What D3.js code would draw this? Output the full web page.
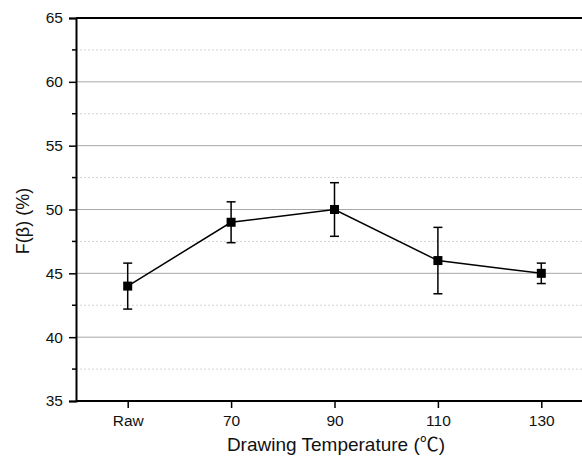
<!DOCTYPE html>
<html>
<head>
<meta charset="utf-8">
<script src="https://cdn.jsdelivr.net/npm/d3@7"></script>
<style>
  body { margin: 0; background: #fff; }
  text { font-family: "Liberation Sans", Arial, sans-serif; fill: #111; }
</style>
</head>
<body>
<svg id="chart" width="582" height="456"></svg>
<script>
// data
const categories = ['Raw', '70', '90', '110', '130'];
const values = [44, 49, 50, 46, 45];
const errors = [1.8, 1.6, 2.1, 2.6, 0.8];
const yTicks = [35, 40, 45, 50, 55, 60, 65];
const yMinorTicks = [37.5, 42.5, 47.5, 52.5, 57.5, 62.5];

const svg = d3.select('#chart');
const plotL = 76, plotT = 18, plotB = 401, plotR = 593;

const x = d3.scalePoint().domain(categories).range([plotL, plotR]).padding(0.5);
const y = d3.scaleLinear().domain([35, 65]).range([plotB, plotT]);

// grid lines
svg.append('g').selectAll('line')
  .data(yTicks.filter(d => d > 35 && d < 65))
  .enter().append('line')
  .attr('x1', plotL).attr('x2', 582)
  .attr('y1', d => y(d)).attr('y2', d => y(d))
  .attr('stroke', '#a8a8a8').attr('stroke-width', 1);

svg.append('g').selectAll('line')
  .data(yMinorTicks)
  .enter().append('line')
  .attr('x1', plotL).attr('x2', 582)
  .attr('y1', d => y(d)).attr('y2', d => y(d))
  .attr('stroke', '#d4d4d4').attr('stroke-width', 1)
  .attr('stroke-dasharray', '2,2');

// top frame line
svg.append('line')
  .attr('x1', plotL).attr('x2', 582)
  .attr('y1', plotT).attr('y2', plotT)
  .attr('stroke', '#000').attr('stroke-width', 2);

// y axis
const yAxis = svg.append('g')
  .attr('transform', `translate(${plotL},0)`)
  .call(d3.axisLeft(y).tickValues(yTicks).tickSize(7).tickPadding(6));
yAxis.selectAll('text').style('font-size', '15.5px');

svg.append('g')
  .attr('transform', `translate(${plotL},0)`)
  .selectAll('line').data(yMinorTicks).enter().append('line')
  .attr('x1', -4).attr('x2', 0)
  .attr('y1', d => y(d)).attr('y2', d => y(d))
  .attr('stroke', '#000').attr('stroke-width', 1.5);

// x axis
const xAxis = svg.append('g')
  .attr('transform', `translate(0,${plotB})`)
  .call(d3.axisBottom(x).tickSize(7).tickPadding(7));
xAxis.select('.domain').attr('d', `M${plotL},0H582`);
xAxis.selectAll('text').style('font-size', '15.5px');

[yAxis, xAxis].forEach(a => {
  a.select('.domain').attr('stroke-width', 2);
  a.selectAll('.tick line').attr('stroke-width', 1.5);
});

// axis titles
const xt = svg.append('text')
  .attr('x', 336).attr('y', 451)
  .attr('text-anchor', 'middle')
  .style('font-size', '19px');
xt.append('tspan').text('Drawing Temperature (');
xt.append('tspan').style('font-family', '"Noto Sans CJK SC"').text('℃');
xt.append('tspan').text(')');

svg.append('text')
  .attr('transform', 'translate(29,221) rotate(-90)')
  .attr('text-anchor', 'middle')
  .style('font-size', '18px')
  .text('F(β) (%)');

// data line
const line = d3.line().x((d, i) => x(categories[i])).y(d => y(d));
svg.append('path')
  .datum(values)
  .attr('d', line)
  .attr('fill', 'none')
  .attr('stroke', '#000')
  .attr('stroke-width', 1.5);

// error bars
const eb = svg.append('g').selectAll('g')
  .data(values).enter().append('g')
  .attr('stroke', '#000').attr('stroke-width', 1.5);
eb.append('line')
  .attr('x1', (d, i) => x(categories[i])).attr('x2', (d, i) => x(categories[i]))
  .attr('y1', (d, i) => y(d + errors[i])).attr('y2', (d, i) => y(d - errors[i]));
eb.append('line')
  .attr('x1', (d, i) => x(categories[i]) - 4.5).attr('x2', (d, i) => x(categories[i]) + 4.5)
  .attr('y1', (d, i) => y(d + errors[i])).attr('y2', (d, i) => y(d + errors[i]));
eb.append('line')
  .attr('x1', (d, i) => x(categories[i]) - 4.5).attr('x2', (d, i) => x(categories[i]) + 4.5)
  .attr('y1', (d, i) => y(d - errors[i])).attr('y2', (d, i) => y(d - errors[i]));

// markers
svg.append('g').selectAll('rect')
  .data(values).enter().append('rect')
  .attr('x', (d, i) => x(categories[i]) - 4.5)
  .attr('y', d => y(d) - 4.5)
  .attr('width', 9).attr('height', 9)
  .attr('fill', '#000');
</script>
</body>
</html>
